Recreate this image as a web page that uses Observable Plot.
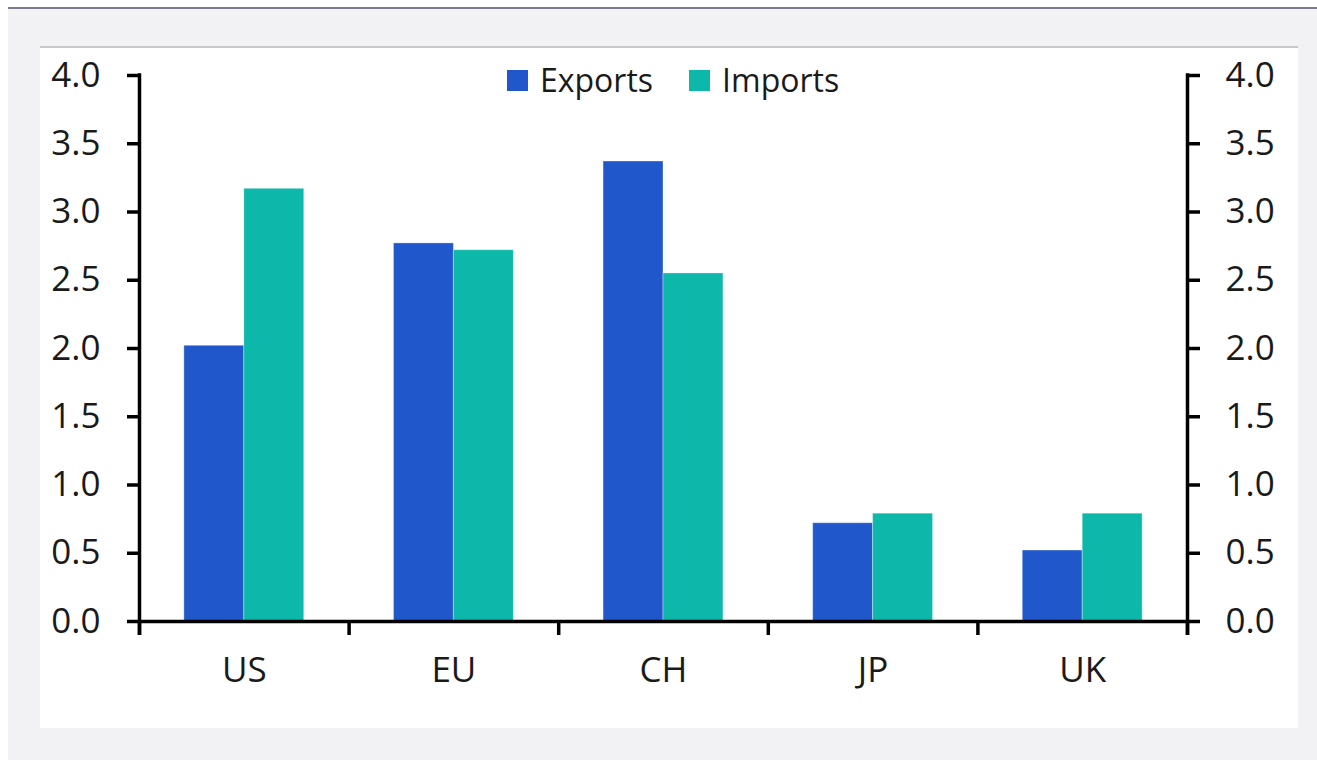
<!DOCTYPE html>
<html>
<head>
<meta charset="utf-8">
<script src="https://cdn.jsdelivr.net/npm/d3@7"></script>
<script src="https://cdn.jsdelivr.net/npm/@observablehq/plot@0.6"></script>
<style>
  html, body { margin: 0; padding: 0; background: #ffffff; }
  body { width: 1317px; height: 760px; position: relative; overflow: hidden; font-family: "Open Sans", "Noto Sans", sans-serif; }
  #frame { position: absolute; left: 8px; top: 7px; width: 1309px; height: 753px; background: #f2f2f4; border-top: 2px solid #7c7c8c; box-sizing: border-box; }
  #panel { position: absolute; left: 40px; top: 46px; width: 1258px; height: 682px; background: #ffffff; border-top: 2px solid #c8c8c8; box-sizing: border-box; }
  #chart { position: absolute; left: 0; top: 0; }
  #legend { position: absolute; left: 507px; top: 58px; display: flex; align-items: center; font-size: 32px; color: #1a1a1a; line-height: 44px; }
  #legend .sw { display: inline-block; width: 21px; height: 21px; margin-right: 12px; }
  #legend .item { display: flex; align-items: center; margin-right: 36px; }
</style>
</head>
<body>
<div id="frame"></div>
<div id="panel"></div>
<div id="chart"></div>
<div id="legend"></div>
<script>
// Trade shares by economy, exports vs imports
const categories = ["US", "EU", "CH", "JP", "UK"];
const exportsValues = [2.02, 2.77, 3.37, 0.72, 0.52];
const importsValues = [3.17, 2.72, 2.55, 0.79, 0.79];
const seriesNames = ["Exports", "Imports"];
const seriesColors = ["#2058cb", "#0db8aa"];
const yTicks = [0, 0.5, 1.0, 1.5, 2.0, 2.5, 3.0, 3.5, 4.0];

// each category occupies one unit on the x scale; the two bars sit side by side in its centre
const barFrac = 0.286;
const rows = [];
categories.forEach((c, i) => {
  rows.push({category: c, series: seriesNames[0], value: exportsValues[i], x1: i + 0.5 - barFrac, x2: i + 0.5});
  rows.push({category: c, series: seriesNames[1], value: importsValues[i], x1: i + 0.5, x2: i + 0.5 + barFrac});
});
const boundaries = d3.range(categories.length + 1);
const centers = categories.map((_, i) => i + 0.5);

const axisStroke = 3.5;
const chart = Plot.plot({
  width: 1317,
  height: 760,
  marginLeft: 139,
  marginRight: 130,
  marginTop: 75,
  marginBottom: 139,
  style: {background: "transparent", fontFamily: "'Open Sans', 'Noto Sans', sans-serif", color: "#1a1a1a"},
  x: {domain: [0, categories.length], axis: null},
  y: {domain: [0, 4], axis: null},
  color: {domain: seriesNames, range: seriesColors},
  marks: [
    Plot.rectY(rows, {x1: "x1", x2: "x2", y1: 0, y2: "value", fill: "series", stroke: "#ffffff", strokeOpacity: 0.35, strokeWidth: 1}),
    // category boundary ticks below the baseline
    Plot.ruleX(boundaries, {x: d => d, y1: 0, y2: 0, insetBottom: -14, stroke: "#000", strokeWidth: axisStroke}),
    // left and right axis lines, running from the top tick down past the baseline
    Plot.ruleX([0, categories.length], {x: d => d, y1: 4, y2: 0, insetTop: -1.75, insetBottom: -14, stroke: "#000", strokeWidth: axisStroke}),
    Plot.ruleY([0], {stroke: "#000", strokeWidth: axisStroke}),
    Plot.axisY({anchor: "left", ticks: yTicks, tickSize: 12, tickPadding: 27, strokeWidth: axisStroke, stroke: "#000", tickFormat: d3.format(".1f"), fontSize: 35, label: null, fill: "#1a1a1a"}),
    Plot.axisY({anchor: "right", ticks: yTicks, tickSize: 12, tickPadding: 26, strokeWidth: axisStroke, stroke: "#000", tickFormat: d3.format(".1f"), fontSize: 35, label: null, fill: "#1a1a1a"}),
    Plot.axisX({ticks: centers, tickSize: 0, tickPadding: 36, tickFormat: v => categories[Math.round(v - 0.5)], fontSize: 35, label: null, fill: "#1a1a1a"})
  ]
});
document.getElementById("chart").appendChild(chart);

const legend = d3.select("#legend");
seriesNames.forEach((name, i) => {
  const item = legend.append("span").attr("class", "item");
  item.append("span").attr("class", "sw").style("background", seriesColors[i]);
  item.append("span").text(name);
});
</script>
</body>
</html>
